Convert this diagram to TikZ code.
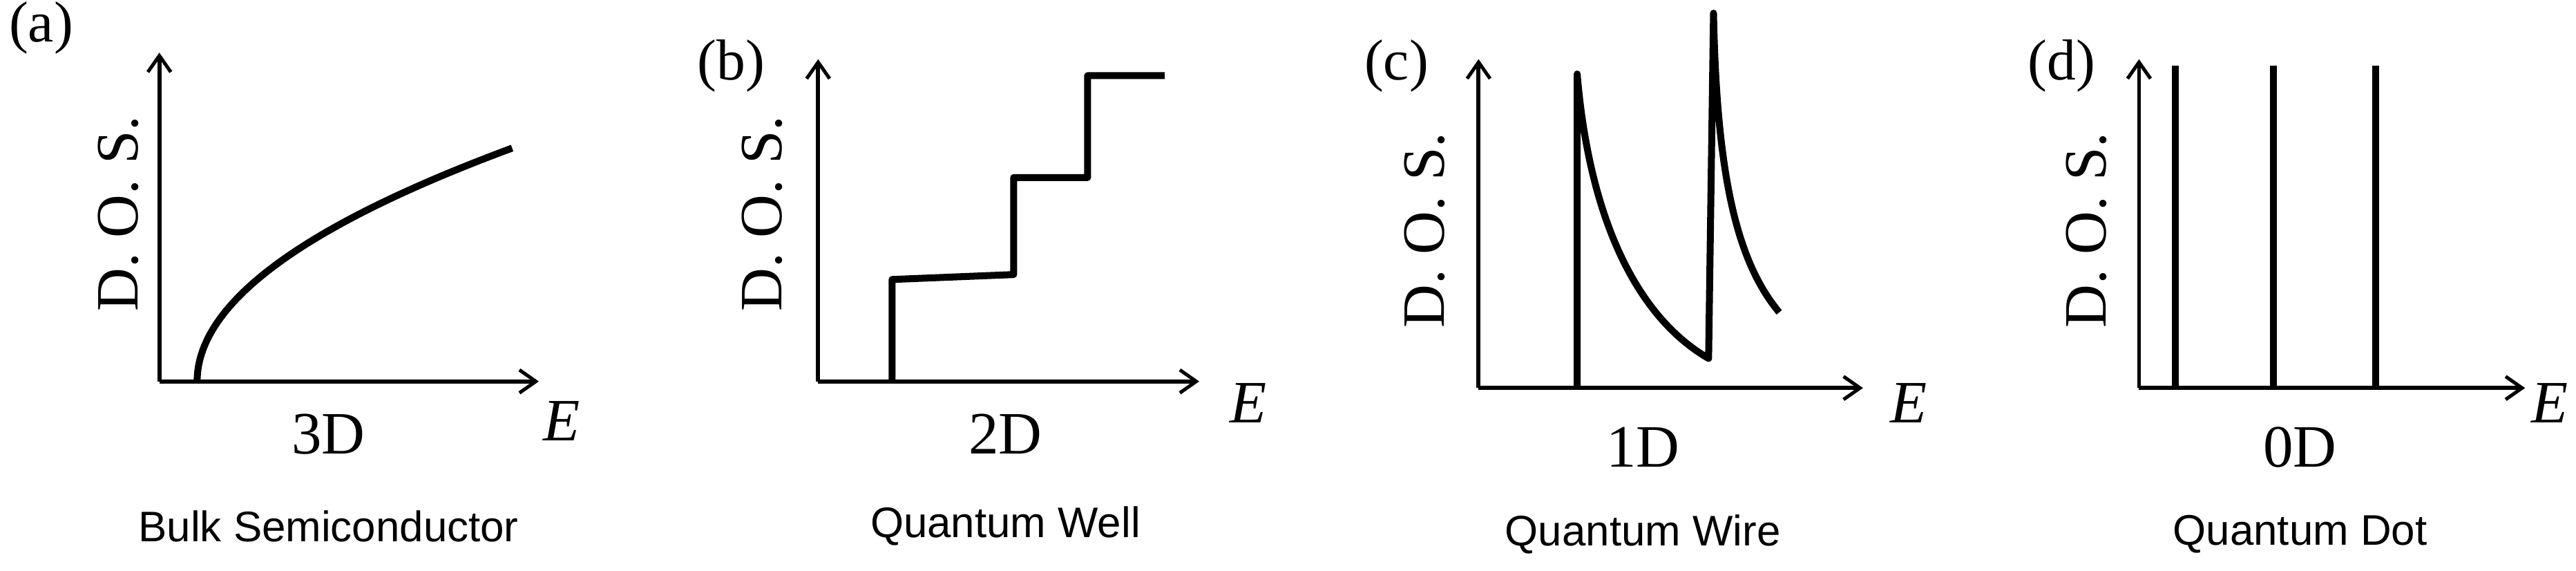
\documentclass[tikz,border=0pt]{standalone}
\usepackage{fontspec}
\setmainfont{Liberation Serif}
\newfontfamily\labelfont{Liberation Sans}
\usetikzlibrary{arrows.meta}

\tikzset{
  axis/.style = {line width=3.5pt, -{Straight Barb[length=5mm,width=7mm,line width=3pt]}},
  dos/.style = {line width=6pt, line join=round},
  tag/.style = {font=\fontsize{50}{54}\selectfont, anchor=center},
  dim/.style = {font=\fontsize{52}{56}\selectfont},
  caption/.style = {font=\labelfont\fontsize{37}{42}\selectfont},
  ylab/.style = {font=\fontsize{52}{56}\selectfont, rotate=90}
}

\begin{document}
\begin{tikzpicture}[x=0.5mm, y=-0.5mm]
    \useasboundingbox (0,0) rectangle (1568,347.3);
    % (a) bulk
        \coordinate (oa) at (97,232);
        \coordinate (ya) at (97,32);
        \coordinate (xa) at (328,232);
        \draw[axis] (oa) -- (ya);
        \draw[axis] (oa) -- (xa);
        \draw[dos] plot[domain=0:1, samples=60] ({120+192*\x*\x},{232-142*\x});
        \node[tag] (ta) at (25,17) {(a)};
        \node[ylab] (la) at (72,130) {D. O. S.};
        \node[dim] (da) at (200,264) {3D};
        \node[dim] (ea) at (342,256) {\textit{E}};
        \node[caption] (na) at (200,320) {Bulk Semiconductor};
    % (b) well
        \coordinate (ob) at (498,232);
        \coordinate (yb) at (498,36);
        \coordinate (xb) at (730,232);
        \draw[axis] (ob) -- (yb);
        \draw[axis] (ob) -- (xb);
        \draw[dos] (543,232) -- (543,170) -- (617,167) -- (617,108) -- (662,108) -- (662,46) -- (709,46);
        \node[tag] (tb) at (445,40) {(b)};
        \node[ylab] (lb) at (464,130) {D. O. S.};
        \node[dim] (db) at (612,264) {2D};
        \node[dim] (eb) at (760,245) {\textit{E}};
        \node[caption] (nb) at (612,320) {Quantum Well};
    % (c) wire
        \coordinate (oc) at (900,236);
        \coordinate (yc) at (900,36);
        \coordinate (xc) at (1134,236);
        \draw[axis] (oc) -- (yc);
        \draw[axis] (oc) -- (xc);
        \draw[dos] (960,236) -- (960,45) .. controls (968,140) and (1000,195) .. (1040,218)
              -- (1043,8) .. controls (1045,110) and (1058,160) .. (1083,190);
        \node[tag] (tc) at (850,40) {(c)};
        \node[ylab] (lc) at (867,140) {D. O. S.};
        \node[dim] (dc) at (1000,272) {1D};
        \node[dim] (ec) at (1162,245) {\textit{E}};
        \node[caption] (nc) at (1000,325) {Quantum Wire};
    % (d) dot
        \coordinate (od) at (1302,236);
        \coordinate (yd) at (1302,36);
        \coordinate (xd) at (1537,236);
        \draw[axis] (od) -- (yd);
        \draw[axis] (od) -- (xd);
        \foreach \p in {1324,1384,1446}
            \draw[dos] (\p,236) -- (\p,40);
        \node[tag] (td) at (1255,40) {(d)};
        \node[ylab] (ld) at (1270,140) {D. O. S.};
        \node[dim] (dd) at (1400,272) {0D};
        \node[dim] (ed) at (1552,245) {\textit{E}};
        \node[caption] (nd) at (1400,325) {Quantum Dot};
\end{tikzpicture}
\end{document}
